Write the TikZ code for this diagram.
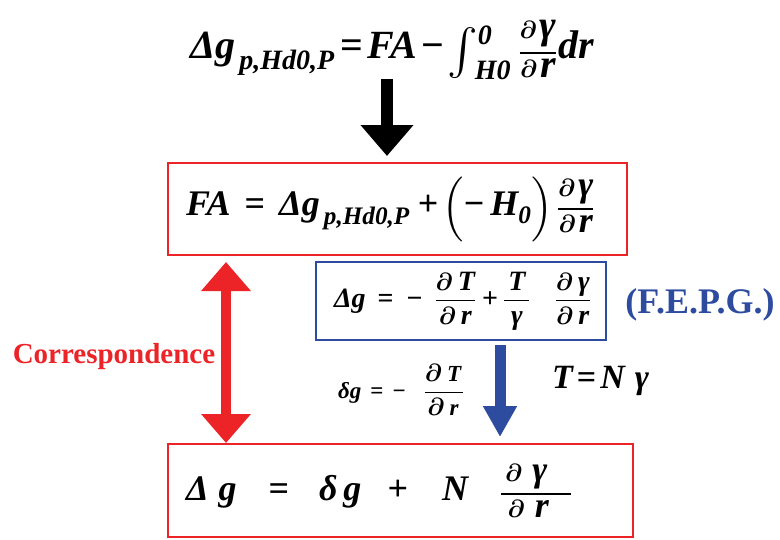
\documentclass[tikz,border=0pt]{standalone}
\usepackage{amsmath}
\usepackage{fontspec}
\setmainfont{Liberation Serif}
\DeclareFontShape{OMX}{cmex}{m}{n}{<->cmex10}{}
\usetikzlibrary{arrows.meta}
\definecolor{rd}{RGB}{236,36,40}
\definecolor{bl}{RGB}{45,76,160}
\newcommand{\bi}[1]{\text{\bfseries\itshape #1}}
\newcommand{\bo}[1]{\text{\bfseries #1}}
\newcommand{\pd}{\boldsymbol{\partial}}

\begin{document}
\begin{tikzpicture}[x=1pt,y=-1pt,
  eqbox/.style={draw,line width=2pt,outer sep=0pt,inner xsep=18pt,inner ysep=0pt,
    align=left,anchor=north west},
  blkarr/.style={line width=12pt,-{Triangle[width=51pt,length=31pt]}},
  rdarr/.style={rd,line width=10pt,
    {Triangle[width=48pt,length=29pt]}-{Triangle[width=48pt,length=29pt]}},
  blarr/.style={bl,line width=11pt,-{Triangle[width=32pt,length=31pt]}}]
  \useasboundingbox (0,0) rectangle (780,539);
  % top relation
  \node[font=\fontsize{40}{46}\selectfont,anchor=west,inner sep=0pt] (topeq) at (190,50)
    {$\displaystyle \bi{Δg}_{\,\bi{p,Hd0,P}}\hspace{6pt}\bo{=}\hspace{4pt}\bi{FA}\hspace{4pt}\bo{−}\hspace{-1pt}
      \mathop{\vcenter{\hbox{\fontsize{46}{46}\selectfont$\int$}}}\nolimits
      ^{\raisebox{-8pt}{$\scriptstyle\bi{0}$}}_{\hspace{-3pt}\bi{H0}}\hspace{3pt}
      \frac{\pd\hspace{3pt}\bi{γ}}{\pd\hspace{3pt}\bi{r}}\hspace{1pt}\bi{dr}$};
  % boxed relations
  \node[eqbox,rd,text=black,text width=423pt,minimum height=92pt,
    font=\fontsize{36}{42}\selectfont] (fabox) at (168,163)
    {$\displaystyle \bi{FA}\hspace{14pt}\bo{=}\hspace{14pt}\bi{Δg}_{\,\bi{p,Hd0,P}}\hspace{8pt}\bo{+}\hspace{4pt}
      \biggl(\bo{−}\hspace{6pt}\bi{H}_{\bi{0}}\biggr)\hspace{4pt}\frac{\pd\hspace{3pt}\bi{γ}}{\pd\hspace{3pt}\bi{r}}$};
  \node[eqbox,bl,text=black,text width=254pt,minimum height=78pt,
    font=\fontsize{28}{32}\selectfont] (fepgbox) at (316,262)
    {$\displaystyle \bi{Δg}\hspace{12pt}\bo{=}\hspace{13pt}\bo{−}\hspace{12pt}
      \frac{\pd\hspace{5pt}\bi{T}}{\pd\hspace{5pt}\bi{r}}\hspace{6pt}\bo{+}\hspace{5pt}
      \frac{\hspace{4pt}\bi{T}\hspace{4pt}}{\bi{γ}}\hspace{24pt}
      \frac{\pd\hspace{5pt}\bi{γ}}{\pd\hspace{5pt}\bi{r}}$};
  \node[eqbox,rd,text=black,text width=429pt,minimum height=93pt,
    font=\fontsize{36}{42}\selectfont] (dgbox) at (168,444)
    {$\displaystyle \bi{Δ}\hspace{10pt}\bi{g}\hspace{32pt}\bo{=}\hspace{30pt}\bi{δ}\hspace{6pt}\bi{g}
      \hspace{26pt}\bo{+}\hspace{34pt}\bi{N}\hspace{32pt}
      \frac{\hspace{4pt}\pd\hspace{10pt}\bi{γ}\hspace{24pt}}{\pd\hspace{10pt}\bi{r}\hspace{16pt}}$};
  % side texts
  \node[font=\fontsize{36}{40}\selectfont\bfseries,text=bl] (fepg) at (700,305) {(F.E.P.G.)};
  \node[font=\fontsize{29}{34}\selectfont\bfseries,text=rd] (corr) at (114,357) {Correspondence};
  \node[font=\fontsize{23}{27}\selectfont,anchor=west,inner sep=0pt] (smalleq) at (338,390)
    {$\displaystyle \bi{δg}\hspace{9pt}\bo{=}\hspace{9pt}\bo{−}\hspace{18pt}
      \frac{\pd\hspace{5pt}\bi{T}\hspace{2pt}}{\pd\hspace{5pt}\bi{r}\hspace{2pt}}$};
  \node[font=\fontsize{34}{38}\selectfont,anchor=west,inner sep=0pt] (tnr) at (552,381)
    {$\bi{T}\hspace{4pt}\bo{=}\hspace{4pt}\bi{N}\hspace{10pt}\bi{γ}$};
  % arrows
  \coordinate (k1) at (387,79);
  \draw[blkarr,shorten >=7pt] (k1) -- (k1 |- fabox.north);
  \draw[rdarr,shorten <=7pt,shorten >=1pt]
    ([xshift=58pt]fabox.south west) -- ([xshift=58pt]dgbox.north west);
  \draw[blarr,shorten <=5pt,shorten >=7pt]
    ([xshift=184pt]fepgbox.south west) -- ([xshift=184pt]fepgbox.south west |- dgbox.north);
\end{tikzpicture}
\end{document}
